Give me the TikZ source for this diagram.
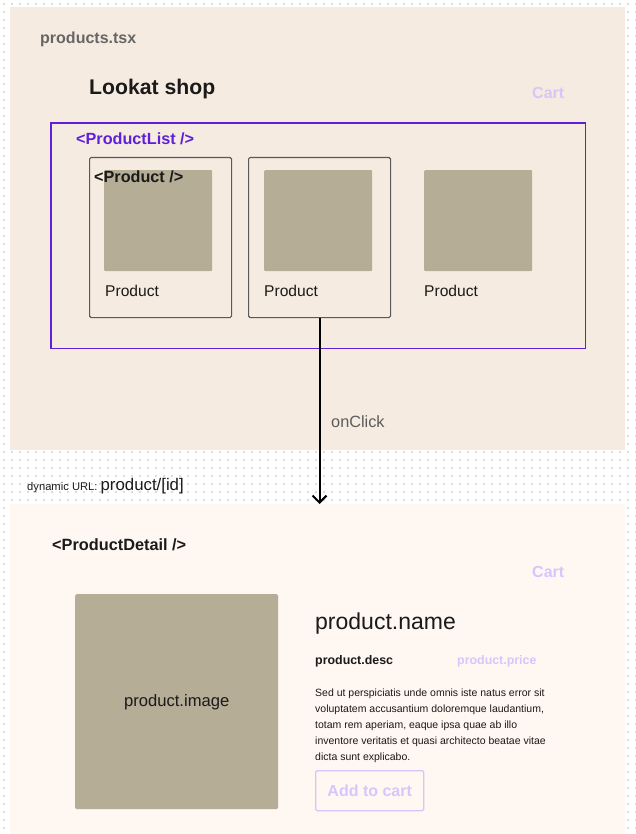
\documentclass[tikz,border=0pt]{standalone}
\usepackage{fontspec}
\setmainfont{Liberation Sans}
\usetikzlibrary{arrows.meta}
\definecolor{panelA}{HTML}{F6EBE0}
\definecolor{panelB}{HTML}{FEF7F2}
\definecolor{imgfill}{HTML}{B6AD96}
\definecolor{purp}{HTML}{6020D8}
\definecolor{lpurp}{HTML}{D9C5FB}
\definecolor{dotc}{HTML}{DCDCDC}
\definecolor{txtgray}{HTML}{666666}
\definecolor{txtdark}{HTML}{1A1A1A}
\tikzset{
  panel/.style={draw=none, inner sep=0pt, anchor=north west},
  card/.style={draw=black!65, line width=1.1pt, rounded corners=1.5pt, inner sep=0pt, anchor=north west},
  thumb/.style={fill=imgfill, draw=none, rounded corners=1pt, inner sep=0pt, anchor=north west},
  lbl/.style={anchor=west, inner sep=0pt, text=txtdark},
}
\newcommand{\fs}[1]{\fontsize{#1}{#1}\selectfont}
\begin{document}
\begin{tikzpicture}[x=1pt,y=-1pt]
\useasboundingbox (0,0) rectangle (636,834);
\fill[white] (0,0) rectangle (636,834);
% dotted background
\foreach \xx in {4,12,...,636} {\foreach \yy in {4,12,...,834} {\fill[dotc] (\xx-0.7,\yy-0.7) rectangle (\xx+0.7,\yy+0.7);}}
% panels
\node[panel, fill=panelA, minimum width=615pt, minimum height=443pt] (top) at (10,7) {};
\node[panel, fill=panelB, minimum width=615pt, minimum height=330pt] (bottom) at (10,504) {};
% top texts
\node[lbl, text=txtgray, font=\bfseries\fs{16}] (file) at (40,39) {products.tsx};
\node[lbl, font=\bfseries\fs{21.2}] (title) at (89,89) {Lookat shop};
\node[lbl, text=lpurp, font=\bfseries\fs{16}] (cart1) at (532,93) {Cart};
% product list
\node[panel, minimum width=534pt, minimum height=225pt] (plist) at (51,123) {};
\draw[purp, line width=1.2pt] (plist.north west) rectangle (plist.south east);
\node[lbl, text=purp, font=\bfseries\fs{16.2}] (plistlbl) at (76,139) {<ProductList />};
% cards
\node[card, minimum width=142pt, minimum height=160pt] (card1) at (89,157) {};
\node[card, minimum width=142pt, minimum height=160pt] (card2) at (248,157) {};
\node[thumb, minimum width=108pt, minimum height=101pt] (img1) at (104,170) {};
\node[thumb, minimum width=108pt, minimum height=101pt] (img2) at (264,170) {};
\node[thumb, minimum width=108pt, minimum height=101pt] (img3) at (424,170) {};
\node[lbl, font=\bfseries\fs{16.2}] (prodlbl) at (94,177) {<Product />};
\node[lbl, font=\fs{15.6}] (p1) at (105,291) {Product};
\node[lbl, font=\fs{15.6}] (p2) at (264,291) {Product};
\node[lbl, font=\fs{15.6}] (p3) at (424,291) {Product};
% connector
\draw[line width=2pt, -{Straight Barb[length=7pt,width=14pt]}] (card2.south) -- (card2.south |- bottom.north);
\node[lbl, text=txtgray!90!black, font=\fs{16.3}] (onclick) at (331,422) {onClick};
\node[lbl, font=\fs{11.2}] (dyn) at (27,486) {dynamic URL: {\fs{16.8}product/[id]}};
% detail
\node[lbl, font=\bfseries\fs{16.3}] (pdlbl) at (52,545) {<ProductDetail />};
\node[lbl, text=lpurp, font=\bfseries\fs{16}] (cart2) at (532,572) {Cart};
\node[thumb, minimum width=203pt, minimum height=215pt, rounded corners=1.5pt] (bigimg) at (75,594) {};
\node[font=\fs{16.6}, text=txtdark] (bigimglbl) at (bigimg.center) {product.image};
\node[lbl, font=\fs{23}] (pname) at (315,624) {product.name};
\node[lbl, font=\bfseries\fs{12.4}] (pdesc) at (315,661) {product.desc};
\node[lbl, text=lpurp, font=\bfseries\fs{12.4}] (pprice) at (457,661) {product.price};
\node[anchor=north west, inner sep=0pt, text=txtdark, font=\fontsize{10.5}{16}\selectfont, align=left] (para) at (315,689)
  {Sed ut perspiciatis unde omnis iste natus error sit\\
   voluptatem accusantium doloremque laudantium,\\
   totam rem aperiam, eaque ipsa quae ab illo\\
   inventore veritatis et quasi architecto beatae vitae\\
   dicta sunt explicabo.};
\node[panel, draw=lpurp, line width=1.4pt, rounded corners=1.5pt, minimum width=108pt, minimum height=40pt] (btn) at (315,770) {};
\node[text=lpurp, font=\bfseries\fs{16}, inner sep=0pt] (btnlbl) at (btn.center) {Add to cart};
\end{tikzpicture}
\end{document}
